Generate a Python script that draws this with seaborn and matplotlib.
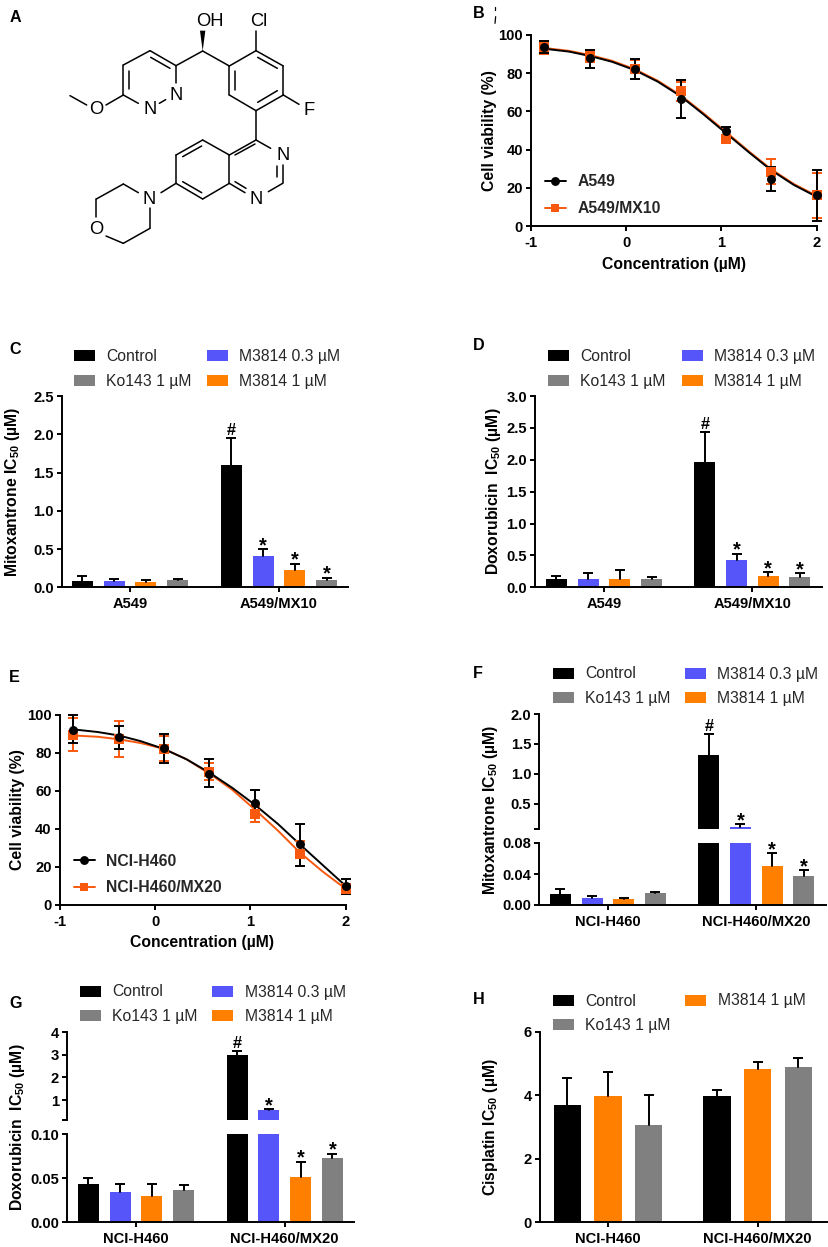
import pandas as pd
import matplotlib
matplotlib.use("Agg")
import matplotlib.pyplot as plt
from matplotlib.lines import Line2D
from matplotlib.patches import Patch, Polygon
import seaborn as sns

sns.set_style("ticks")
plt.rcParams['font.family'] = ['Liberation Sans', 'DejaVu Sans']
plt.rcParams['mathtext.fontset'] = 'dejavusans'
plt.rcParams['mathtext.default'] = 'regular'

W, H = 829, 1247
LW = 1.4

# Dose response points
conc = [-0.86, -0.38, 0.09, 0.57, 1.05, 1.52, 2.0]
fit_conc = [-0.86, -0.6, -0.38, -0.15, 0.09, 0.33, 0.57, 0.81, 1.05, 1.29, 1.52, 1.76, 2.0]

b_black = [93.8, 87.8, 82.4, 66.5, 49.9, 24.7, 16.0]
b_black_lo = [90.8, 82.7, 76.9, 56.4, 47.7, 18.3, 2.5]
b_black_hi = [96.8, 92.2, 87.5, 76.2, 52.0, 31.0, 29.5]
b_orange = [93.5, 89.0, 82.0, 70.5, 45.5, 28.5, 16.0]
b_orange_lo = [90.0, 86.0, 76.8, 65.5, 43.5, 22.0, 4.0]
b_orange_hi = [97.0, 92.0, 87.0, 75.5, 47.5, 35.0, 27.7]
b_fit_black = [92.8, 91.3, 89.0, 86.0, 81.6, 75.6, 68.0, 58.5, 48.5, 38.5, 29.3, 21.5, 15.3]
b_fit_orange = [93.2, 91.7, 89.5, 86.5, 82.1, 76.1, 68.5, 59.1, 49.1, 39.0, 29.8, 22.0, 15.8]

e_black = [92.0, 88.0, 82.5, 69.0, 53.5, 32.0, 10.0]
e_black_lo = [85.3, 82.0, 74.8, 61.8, 46.4, 20.5, 5.8]
e_black_hi = [99.6, 94.2, 90.0, 76.5, 60.4, 42.7, 13.8]
e_orange = [89.5, 87.0, 82.0, 70.0, 48.0, 27.0, 8.5]
e_orange_lo = [81.0, 77.5, 75.5, 65.5, 43.5, 20.5, 6.0]
e_orange_hi = [98.2, 96.5, 88.5, 74.5, 52.0, 33.8, 11.0]
e_fit_black = [92.2, 90.8, 89.0, 86.0, 82.0, 76.5, 69.5, 61.5, 52.5, 42.5, 31.8, 20.9, 10.0]
e_fit_orange = [89.0, 88.3, 87.0, 85.0, 82.0, 76.5, 69.0, 60.5, 50.0, 39.0, 27.5, 17.5, 8.5]

# Bar panels
a549_groups = ["A549", "A549/MX10"]
h460_groups = ["NCI-H460", "NCI-H460/MX20"]
treat4 = ["Control", "M3814 0.3 µM", "M3814 1 µM", "Ko143 1 µM"]
treat3 = ["Control", "M3814 1 µM", "Ko143 1 µM"]
colors = {"Control": "#000000", "M3814 0.3 µM": "#5555FA", "M3814 1 µM": "#FF8000", "Ko143 1 µM": "#808080"}

c_vals = [0.085, 0.085, 0.075, 0.095, 1.60, 0.41, 0.22, 0.095]
c_tops = [0.15, 0.105, 0.09, 0.105, 1.95, 0.50, 0.31, 0.125]
d_vals = [0.135, 0.13, 0.125, 0.125, 1.97, 0.43, 0.185, 0.165]
d_tops = [0.185, 0.225, 0.27, 0.16, 2.44, 0.53, 0.24, 0.22]
f_vals = [0.014, 0.009, 0.008, 0.0155, 1.32, 0.122, 0.05, 0.037]
f_tops = [0.021, 0.011, 0.009, 0.017, 1.67, 0.16, 0.067, 0.045]
g_vals = [0.044, 0.034, 0.03, 0.037, 2.97, 0.544, 0.051, 0.073]
g_tops = [0.05, 0.044, 0.044, 0.042, 3.17, 0.59, 0.069, 0.078]
h_vals = [3.7, 3.98, 3.05, 3.98, 4.83, 4.88]
h_tops = [4.55, 4.73, 4.0, 4.17, 5.05, 5.17]
marks4 = ["", "", "", "", "#", "*", "*", "*"]
marks3 = ["", "", "", "", "", ""]

# Molecule in panel A, in 3x crop coordinates
bonds = [
    ((370, 285), (370, 195)), ((370, 195), (450, 152)), ((450, 152), (528, 197)),
    ((528, 197), (528, 250)), ((415, 310), (370, 285)), ((387, 267), (387, 213)),
    ((452, 172), (510, 205)), ((478, 310), (497, 299)), ((210, 287), (260, 315)),
    ((318, 315), (370, 285)), ((528, 197), (608, 153)), ((608, 153), (688, 198)),
    ((768, 152), (768, 92)), ((688, 198), (768, 152)), ((768, 152), (850, 198)),
    ((850, 198), (850, 285)), ((850, 285), (768, 332)), ((768, 332), (688, 285)),
    ((688, 285), (688, 198)), ((705, 213), (705, 270)), ((773, 172), (832, 205)),
    ((832, 272), (773, 307)), ((850, 285), (897, 313)), ((768, 332), (768, 420)),
    ((768, 420), (812, 445)), ((848, 495), (848, 550)), ((832, 497), (832, 530)),
    ((848, 550), (805, 575)), ((735, 578), (688, 550)), ((705, 545), (738, 565)),
    ((688, 550), (688, 465)), ((688, 465), (768, 420)), ((705, 465), (765, 432)),
    ((688, 465), (608, 420)), ((608, 420), (528, 465)), ((528, 465), (528, 550)),
    ((528, 550), (608, 597)), ((608, 597), (688, 550)), ((605, 438), (548, 470)),
    ((548, 545), (605, 578)), ((528, 550), (483, 578)), ((415, 578), (370, 552)),
    ((370, 552), (289, 597)), ((289, 597), (289, 650)), ((318, 708), (370, 730)),
    ((370, 730), (450, 685)), ((450, 685), (450, 625)),
]
atoms = [
    ("O", 288, 330), ("N", 450, 330), ("N", 528, 288), ("OH", 630, 65), ("Cl", 775, 65),
    ("F", 927, 332), ("N", 848, 465), ("N", 768, 600), ("N", 448, 600), ("O", 288, 690),
]
letters = [
    ("A", 28, 54), ("B", 1419, 42), ("C", 28, 1050), ("D", 1419, 1037),
    ("E", 28, 2033), ("F", 1419, 2022), ("G", 28, 3012), ("H", 1419, 2997),
]


def px_axes(left, top, right, bottom):
    return fig.add_axes([left / W, 1 - bottom / H, (right - left) / W, (bottom - top) / H])


def style_axis(ax, bottom=True):
    ax.patch.set_alpha(0)
    sns.despine(ax=ax, bottom=not bottom)
    for side in ['left', 'bottom']:
        ax.spines[side].set_linewidth(LW)
        ax.spines[side].set_color('black')
    ax.tick_params(axis='both', length=3.8, width=LW, color='black', labelcolor='black')
    ax.tick_params(axis='y', pad=2)
    ax.tick_params(axis='x', pad=3.5)
    if not bottom:
        ax.tick_params(axis='x', bottom=False, labelbottom=False)
    for t in ax.get_xticklabels() + ax.get_yticklabels():
        t.set_fontweight('bold')
        t.set_fontsize(10.6)


def place_ylabel(ax, text, x, y):
    ax.set_ylabel(text, fontweight='bold', fontsize=11.3, va='center', color='black')
    ax.yaxis.set_label_coords((x + 1.5) / W, 1 - y / H, transform=fig.transFigure)


def bar_panel(ax, groups, treats, vals, tops, marks, width, gap, xlim, ylim):
    n = len(treats)
    df = pd.DataFrame({
        'group': [g for g in groups for _ in treats],
        'treat': treats * len(groups),
        'value': vals,
    })
    sns.barplot(data=df, x='group', y='value', hue='treat', order=groups, hue_order=treats,
                palette=colors, width=width, gap=gap, saturation=1, errorbar=None,
                legend=False, linewidth=0, ax=ax)
    ax.set_xlim(*xlim)
    ax.set_ylim(*ylim)
    ax.set_xlabel("")
    ax.set_ylabel("")
    for t, cont in enumerate(list(ax.containers)):
        for g, bar in enumerate(cont):
            k = g * n + t
            cx = bar.get_x() + bar.get_width() / 2
            # only the upper half of the error bar, and only where it falls on this axis
            if tops[k] <= ylim[0] or vals[k] >= ylim[1]:
                continue
            ax.plot([cx, cx], [vals[k], tops[k]], color='black', linewidth=LW, zorder=4)
            if tops[k] <= ylim[1]:
                ax.plot([cx], [tops[k]], marker='_', color='black', markersize=7.8,
                        markeredgewidth=LW, zorder=4)
            if marks[k] and ylim[0] < tops[k] <= ylim[1]:
                dy = 2.2 if marks[k] == "#" else -1.5
                size = 11.8 if marks[k] == "#" else 14.5
                ax.annotate(marks[k], (cx, tops[k]), xytext=(0, dy), textcoords='offset points',
                            ha='center', va='baseline', fontsize=size, fontweight='bold',
                            annotation_clip=False, color='black')


def bar_legend(ax, treats, x, y, spacing=0.95):
    if len(treats) == 4:
        order = ["Control", "Ko143 1 µM", "M3814 0.3 µM", "M3814 1 µM"]
    else:
        order = ["Control", "Ko143 1 µM", "M3814 1 µM"]
    handles = [Patch(facecolor=colors[t], edgecolor='none', label=t) for t in order]
    ax.legend(handles=handles, ncols=2, loc='upper left', bbox_to_anchor=(x / W, 1 - y / H),
              bbox_transform=fig.transFigure, frameon=False, borderpad=0, borderaxespad=0,
              handlelength=1.33, handleheight=0.7, handletextpad=0.72, columnspacing=spacing,
              labelspacing=0.62, prop={'family': 'Liberation Sans', 'size': 11.3})


def curve_panel(ax, fit_black, fit_orange, pts_black, lo_black, hi_black, pts_orange, lo_orange, hi_orange,
                names, ylabel, label_xy, xlabel_xy, legend_xy):
    orange = '#F8590F'
    series = [
        (fit_orange, pts_orange, lo_orange, hi_orange, orange, 's'),
        (fit_black, pts_black, lo_black, hi_black, 'black', 'o'),
    ]
    for fit, pts, lo, hi, col, mark in series:
        sns.lineplot(x=fit_conc, y=fit, color=col, linewidth=LW, errorbar=None, ax=ax, clip_on=False)
        yerr = [[p - l for p, l in zip(pts, lo)], [h - p for p, h in zip(pts, hi)]]
        ax.errorbar(conc, pts, yerr=yerr, fmt='none', ecolor=col, elinewidth=LW, capsize=3.9,
                    capthick=LW, clip_on=False, zorder=3)
        sns.scatterplot(x=conc, y=pts, color=col, marker=mark, s=42, linewidth=0, ax=ax,
                        clip_on=False, zorder=4)
    ax.set_xlim(-1, 2)
    ax.set_ylim(0, 100)
    ax.set_xticks([-1, 0, 1, 2], ["-1", "0", "1", "2"])
    ax.set_yticks([0, 20, 40, 60, 80, 100], ["0", "20", "40", "60", "80", "100"])
    style_axis(ax)
    place_ylabel(ax, ylabel, *label_xy)
    fig.text(xlabel_xy[0] / W, 1 - xlabel_xy[1] / H, "Concentration (µM)", ha='center', va='center',
             fontweight='bold', fontsize=11.3, color='black')
    handles = [
        Line2D([], [], color='black', marker='o', markersize=6.4, markeredgewidth=0, linewidth=LW, label=names[0]),
        Line2D([], [], color=orange, marker='s', markersize=6.4, markeredgewidth=0, linewidth=LW, label=names[1]),
    ]
    ax.legend(handles=handles, loc='upper left', bbox_to_anchor=(legend_xy[0] / W, 1 - legend_xy[1] / H),
              bbox_transform=fig.transFigure, frameon=False, borderpad=0, borderaxespad=0,
              handlelength=1.33, handletextpad=0.72, labelspacing=0.75,
              prop={'family': 'Liberation Sans', 'weight': 'bold', 'size': 11.3})


fig = plt.figure(figsize=(W / 100, H / 100), dpi=100)

# Panel A and the panel letters
over = fig.add_axes([0, 0, 1, 1])
over.set_xlim(0, W * 3)
over.set_ylim(H * 3, 0)
over.axis('off')
for p, q in bonds:
    over.plot([p[0], q[0]], [p[1], q[1]], color='black', linewidth=1.1, solid_capstyle='round')
over.add_patch(Polygon([(608, 153), (600, 92), (616, 92)], closed=True, color='black', linewidth=0))
for name, x, y in atoms:
    over.text(x, y, name, ha='center', va='center', fontsize=13.2, color='black')
for name, x, y in letters:
    over.text(x, y, name, ha='left', va='center', fontsize=11.6, fontweight='bold', color='black')
over.plot([1485, 1485], [20, 30], color='black', linewidth=0.9)
over.plot([1487, 1485], [50, 70], color='black', linewidth=0.9)

# Panel B
ax_b = px_axes(531, 35, 816.7, 226)
curve_panel(ax_b, b_fit_black, b_fit_orange, b_black, b_black_lo, b_black_hi, b_orange, b_orange_lo, b_orange_hi,
            ["A549", "A549/MX10"], "Cell viability (%)", (487.7, 131), (674, 265), (545, 174.5))

# Panel E
ax_e = px_axes(59.7, 714.5, 345.7, 905)
curve_panel(ax_e, e_fit_black, e_fit_orange, e_black, e_black_lo, e_black_hi, e_orange, e_orange_lo, e_orange_hi,
            ["NCI-H460", "NCI-H460/MX20"], "Cell viability (%)", (16, 810), (202, 942), (74, 853.5))

# Panel C
ax_c = px_axes(61.7, 396, 348, 587.3)
bar_panel(ax_c, a549_groups, treat4, c_vals, c_tops, marks4, 0.854, 0.34, (-0.458, 1.463), (0, 2.5))
ax_c.set_yticks([0, 0.5, 1.0, 1.5, 2.0, 2.5], ["0.0", "0.5", "1.0", "1.5", "2.0", "2.5"])
style_axis(ax_c)
place_ylabel(ax_c, "Mitoxantrone IC$_{50}$ (µM)", 11, 491.7)
bar_legend(ax_c, treat4, 74.3, 349.2)

# Panel D
ax_d = px_axes(535, 396, 821.7, 587.3)
bar_panel(ax_d, a549_groups, treat4, d_vals, d_tops, marks4, 0.854, 0.34, (-0.465, 1.467), (0, 3.0))
ax_d.set_yticks([0, 0.5, 1.0, 1.5, 2.0, 2.5, 3.0], ["0.0", "0.5", "1.0", "1.5", "2.0", "2.5", "3.0"])
style_axis(ax_d)
place_ylabel(ax_d, "Doxorubicin  IC$_{50}$ (µM)", 491.7, 491.7)
bar_legend(ax_d, treat4, 548, 349.2, spacing=1.05)

# Panel F, broken axis
ax_f_top = px_axes(539.3, 714, 826, 829)
bar_panel(ax_f_top, h460_groups, treat4, f_vals, f_tops, marks4, 0.854, 0.34, (-0.463, 1.47), (0.083, 2.0))
ax_f_top.set_yticks([0.083, 0.5, 1.0, 1.5, 2.0], ["", "0.5", "1.0", "1.5", "2.0"])
style_axis(ax_f_top, bottom=False)
ax_f = px_axes(539.3, 843, 826, 905)
bar_panel(ax_f, h460_groups, treat4, f_vals, f_tops, marks4, 0.854, 0.34, (-0.463, 1.47), (0, 0.08))
ax_f.set_yticks([0, 0.04, 0.08], ["0.00", "0.04", "0.08"])
style_axis(ax_f)
place_ylabel(ax_f, "Mitoxantrone IC$_{50}$ (µM)", 489, 810)
bar_legend(ax_f, treat4, 552.7, 666.5)

# Panel G, broken axis
ax_g_top = px_axes(67, 1032, 354, 1120)
bar_panel(ax_g_top, h460_groups, treat4, g_vals, g_tops, marks4, 0.854, 0.34, (-0.464, 1.466), (0.118, 4))
ax_g_top.set_yticks([0.118, 1, 2, 3, 4], ["", "1", "2", "3", "4"])
style_axis(ax_g_top, bottom=False)
ax_g = px_axes(67, 1134.3, 354, 1222.3)
bar_panel(ax_g, h460_groups, treat4, g_vals, g_tops, marks4, 0.854, 0.34, (-0.464, 1.466), (0, 0.10))
ax_g.set_yticks([0, 0.05, 0.10], ["0.00", "0.05", "0.10"])
style_axis(ax_g)
place_ylabel(ax_g, "Doxorubicin  IC$_{50}$ (µM)", 15.7, 1127.5)
bar_legend(ax_g, treat4, 80, 984.5)

# Panel H
ax_h = px_axes(540, 1031.7, 827, 1222.3)
bar_panel(ax_h, h460_groups, treat3, h_vals, h_tops, marks3, 0.816, 0.33, (-0.454, 1.464), (0, 6))
ax_h.set_yticks([0, 2, 4, 6], ["0", "2", "4", "6"])
style_axis(ax_h)
place_ylabel(ax_h, "Cisplatin IC$_{50}$ (µM)", 489, 1127)
bar_legend(ax_h, treat3, 553, 993.5)

fig.savefig("out.png", dpi=100)
